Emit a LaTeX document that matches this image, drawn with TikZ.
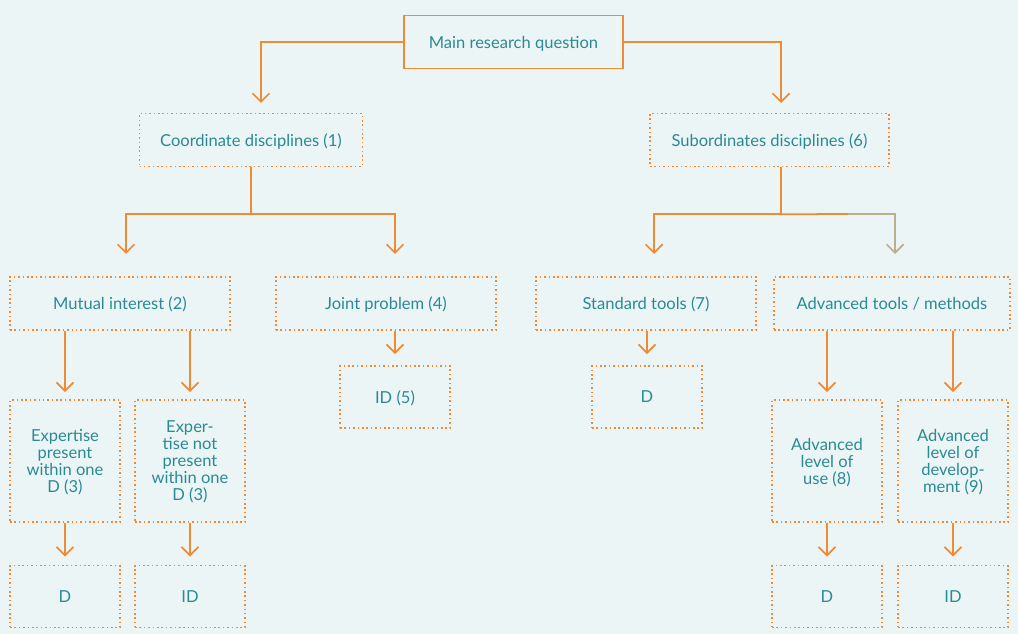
\documentclass[tikz,border=0pt]{standalone}
\usepackage{fontspec}
\setmainfont{Lato}
\usetikzlibrary{arrows.meta}
\definecolor{bgblue}{HTML}{ECF5F5}
\definecolor{lineorange}{HTML}{F08B35}
\definecolor{textteal}{HTML}{2A8A94}
\definecolor{olive}{HTML}{B9B08C}
\tikzset{
  box/.style={draw=lineorange, line width=0.9pt, dash pattern=on 0.9pt off 1.6pt,
    text=textteal, align=center, inner sep=1pt, text depth=0pt, font=\fontsize{9.4}{9.7}\selectfont},
  wide/.style={box, minimum width=4.4cm, minimum height=1.06cm},
  small/.style={box, minimum width=2.2cm, minimum height=1.24cm},
  tall/.style={box, minimum width=2.2cm, minimum height=2.44cm},
  link/.style={draw=lineorange, line width=1pt, -{Straight Barb[length=1.7mm, width=3.4mm, line width=1pt]}},
}
\begin{document}
\begin{tikzpicture}[x=0.02cm, y=-0.02cm]
  \fill[bgblue] (0,0) rectangle (1018,634);
  \useasboundingbox (0,0) rectangle (1018,634);

  \node [box, solid, minimum width=4.38cm, minimum height=1.06cm] (main) at (513.5,42) {Main research question};
  \node [wide, minimum width=4.46cm] (coord) at (251,140) {Coordinate disciplines (1)};
  \node [wide, minimum width=4.78cm] (sub) at (769.5,140) {Subordinates disciplines (6)};

  \node [wide] (mutual) at (120,303.5) {Mutual interest (2)};
  \node [wide] (joint) at (386,303.5) {Joint problem (4)};
  \node [wide] (std) at (646,303.5) {Standard tools (7)};
  \node [wide, minimum width=4.72cm] (adv) at (892,303.5) {Advanced tools / methods};

  \node [small] (id5) at (395,397) {ID (5)};
  \node [small] (dstd) at (647,397) {D};

  \node [tall] (exp1) at (65,461) {Expertise\\present\\within one\\D (3)};
  \node [tall] (exp2) at (190,461) {Exper-\\tise not\\present\\within one\\D (3)};
  \node [tall] (lvl1) at (827,461) {Advanced\\level of\\use (8)};
  \node [tall] (lvl2) at (953,461) {Advanced\\level of\\develop-\\ment (9)};

  \node [small] (d1) at (65,596.5) {D};
  \node [small] (id1) at (190,596.5) {ID};
  \node [small] (d2) at (827,596.5) {D};
  \node [small] (id2) at (953,596.5) {ID};

  \coordinate (tl) at (261,103);
  \coordinate (tr) at (781,103);
  \coordinate (ta) at (126,254);
  \coordinate (tb) at (395,254);
  \coordinate (tc) at (654,254);
  \coordinate (td) at (895,254);
  \coordinate (olv) at (848,214);

  \draw[link] (main.west) -| (tl);
  \draw[link] (main.east) -| (tr);

  \draw[link] (coord.south) -- ++(0,47) -| (ta);
  \draw[link] (coord.south) -- ++(0,47) -| (tb);
  \draw[link] (sub.south -| tr) -- ++(0,47) -| (tc);
  \draw[draw=lineorange, line width=1pt] (sub.south -| tr) -- ++(0,47) -- (olv);
  \draw[link, draw=olive] (olv) -| (td);

  \draw[link, shorten >=0.14cm] (mutual.south -| exp1.north) -- (exp1.north);
  \draw[link, shorten >=0.14cm] (mutual.south -| exp2.north) -- (exp2.north);
  \draw[link, shorten >=0.22cm] (joint.south -| id5.north) -- (id5.north);
  \draw[link, shorten >=0.22cm] (std.south -| dstd.north) -- (dstd.north);
  \draw[link, shorten >=0.14cm] (adv.south -| lvl1.north) -- (lvl1.north);
  \draw[link, shorten >=0.14cm] (adv.south -| lvl2.north) -- (lvl2.north);

  \draw[link, shorten >=0.16cm] (exp1) -- (d1);
  \draw[link, shorten >=0.16cm] (exp2) -- (id1);
  \draw[link, shorten >=0.16cm] (lvl1) -- (d2);
  \draw[link, shorten >=0.16cm] (lvl2) -- (id2);
\end{tikzpicture}
\end{document}
